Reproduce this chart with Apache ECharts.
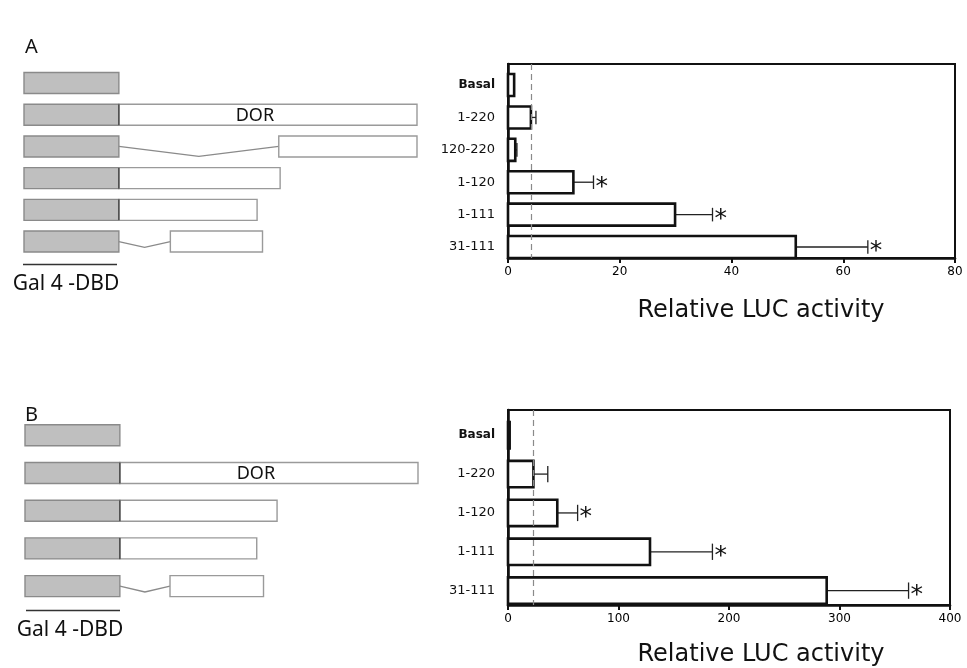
<!DOCTYPE html>
<html>
<head>
<meta charset="utf-8">
<script src="https://cdn.jsdelivr.net/npm/echarts@6/dist/echarts.min.js"></script>
<style>
  html, body { margin: 0; padding: 0; background: #fff; }
  #chart { width: 967px; height: 668px; }
</style>
</head>
<body>
<div id="chart"></div>
<script>
// ---- data: panel A ----
const catsA = ['Basal', '1-220', '120-220', '1-120', '1-111', '31-111'];
const meanA = [1.1, 4.1, 1.3, 11.7, 29.9, 51.5];
const errHighA = [1.1, 5.0, 1.6, 15.3, 36.6, 64.4];
const sigA = [0, 0, 0, 1, 1, 1];
const basalLineA = 4.1;
const xTicksA = { min: 0, max: 80, step: 20 };

// ---- data: panel B ----
const catsB = ['Basal', '1-220', '1-120', '1-111', '31-111'];
const meanB = [1.5, 23, 44.6, 128.5, 288.4];
const errHighB = [1.5, 36, 63, 185, 362.5];
const sigB = [0, 0, 1, 1, 1];
const basalLineB = 22.5;
const xTicksB = { min: 0, max: 400, step: 100 };

// ---- construct diagrams (residue coordinates; DBD drawn before residue 0) ----
const dbdRange = [-70, 0];
const dorA = [null, [0, 220], [118, 220], [0, 119], [0, 102], [38, 106]];
const delA = [null, null, [0, 118], null, null, [0, 38]];
const dorB = [null, [0, 220], [0, 116], [0, 101], [37, 106]];
const delB = [null, null, null, null, [0, 37]];

const FONT = 'DejaVu Sans';

function diagramData(dor, del) {
  const out = [];
  dor.forEach((seg, i) => {
    out.push([i, 0, dbdRange[0], dbdRange[1]]);
    if (del[i]) out.push([i, 2, del[i][0], del[i][1]]);
    if (seg) out.push([i, 1, seg[0], seg[1]]);
  });
  return out;
}

function renderDiagram(params, api) {
  const row = api.value(0), kind = api.value(1), s = api.value(2), e = api.value(3);
  const p0 = api.coord([s, row]);
  const p1 = api.coord([e, row]);
  const h = 21;
  if (kind === 2) {
    const mid = api.coord([(s + e) / 2, row]);
    const dip = Math.min(10, 4 + (e - s) / 20);
    return {
      type: 'polyline',
      shape: { points: [p0, [mid[0], mid[1] + dip], p1] },
      style: { stroke: '#8a8a8a', lineWidth: 1.3, fill: null }
    };
  }
  const children = [{
    type: 'rect',
    shape: { x: p0[0], y: p0[1] - h / 2, width: p1[0] - p0[0], height: h },
    style: {
      fill: kind === 0 ? '#bfbfbf' : '#fff',
      stroke: kind === 0 ? '#8a8a8a' : '#9a9a9a',
      lineWidth: 1.4
    }
  }];
  if (kind === 1 && s === 0) {
    children.push({
      type: 'line',
      shape: { x1: p0[0], y1: p0[1] - h / 2, x2: p0[0], y2: p0[1] + h / 2 },
      style: { stroke: '#444', lineWidth: 1.4 }
    });
  }
  if (kind === 1 && s === 0 && e === 220) {
    children.push({
      type: 'text',
      style: {
        text: 'DOR', x: (p0[0] + p1[0]) / 2 - 13, y: p0[1] + 1,
        align: 'center', verticalAlign: 'middle',
        font: '18px "Noto Sans"', fill: '#111'
      }
    });
  }
  return { type: 'group', children };
}

function barData(mean, hi, sig) {
  return mean.map((v, i) => [i, v, hi[i], sig[i]]);
}

function renderBar(params, api) {
  const row = api.value(0), v = api.value(1), hi = api.value(2), sig = api.value(3);
  const p0 = api.coord([0, row]);
  const p1 = api.coord([v, row]);
  const ph = api.coord([hi, row]);
  const band = Math.abs(api.coord([0, row + 1])[1] - p0[1]);
  const h = band * 0.68;
  const cap = band * 0.21;
  const children = [];
  if (hi > v) {
    children.push({
      type: 'line',
      shape: { x1: p1[0], y1: p1[1], x2: ph[0], y2: ph[1] },
      style: { stroke: '#222', lineWidth: 1.3 }
    });
    children.push({
      type: 'line',
      shape: { x1: ph[0], y1: ph[1] - cap, x2: ph[0], y2: ph[1] + cap },
      style: { stroke: '#222', lineWidth: 1.3 }
    });
  }
  children.push({
    type: 'rect',
    shape: { x: p0[0], y: p0[1] - h / 2, width: Math.max(p1[0] - p0[0], 1), height: h },
    style: { fill: '#fff', stroke: '#111', lineWidth: 2.6 }
  });
  if (sig) {
    children.push({
      type: 'text',
      style: {
        text: '*', x: ph[0] + 2, y: ph[1] + 5,
        align: 'left', verticalAlign: 'middle',
        font: '25px "DejaVu Sans"', fill: '#111'
      }
    });
  }
  return { type: 'group', children };
}

function valueXAxis(grid, t) {
  return {
    gridIndex: grid, type: 'value', min: t.min, max: t.max, interval: t.step,
    axisLine: { show: true, onZero: false, lineStyle: { color: '#111', width: 2.6 } },
    axisTick: { show: true, length: 5, lineStyle: { color: '#111', width: 2 } },
    axisLabel: { fontFamily: FONT, fontSize: 12, color: '#000', margin: 8 },
    splitLine: { show: false }
  };
}

function catYAxis(grid, cats, max) {
  return {
    gridIndex: grid, type: 'value', inverse: true, min: -0.65, max: max,
    axisLine: { show: true, onZero: false, lineStyle: { color: '#111', width: 2.6 } },
    axisTick: { show: false },
    splitLine: { show: false },
    axisLabel: {
      customValues: cats.map((c, i) => i),
      formatter: (v) => (cats[v] === 'Basal' ? '{b|Basal}' : cats[v]),
      fontFamily: FONT, fontSize: 13, color: '#111', margin: 13,
      rich: { b: { fontFamily: FONT, fontSize: 12, fontWeight: 'bold', color: '#111' } }
    }
  };
}

const hidden = { show: false };

const chart = echarts.init(document.getElementById('chart'), null, { renderer: 'canvas' });

chart.setOption({
  animation: false,
  backgroundColor: '#fff',
  grid: [
    { left: 24, top: 67.2, width: 393, height: 190.2 },
    { left: 508, top: 64, width: 447, height: 194, show: true, borderColor: '#111', borderWidth: 2 },
    { left: 25, top: 416.4, width: 393, height: 188.6 },
    { left: 508, top: 410, width: 442, height: 195, show: true, borderColor: '#111', borderWidth: 2 }
  ],
  xAxis: [
    { gridIndex: 0, type: 'value', min: -70, max: 220, ...hidden },
    valueXAxis(1, xTicksA),
    { gridIndex: 2, type: 'value', min: -70, max: 220, ...hidden },
    valueXAxis(3, xTicksB)
  ],
  yAxis: [
    { gridIndex: 0, type: 'value', inverse: true, min: -0.5, max: 5.5, ...hidden },
    catYAxis(1, catsA, 5.34),
    { gridIndex: 2, type: 'value', inverse: true, min: -0.5, max: 4.5, ...hidden },
    catYAxis(3, catsB, 4.37)
  ],
  series: [
    {
      type: 'custom', xAxisIndex: 0, yAxisIndex: 0, silent: true,
      renderItem: renderDiagram, data: diagramData(dorA, delA)
    },
    {
      type: 'custom', xAxisIndex: 1, yAxisIndex: 1, silent: true, z: 3,
      renderItem: renderBar, data: barData(meanA, errHighA, sigA),
      markLine: {
        silent: true, symbol: 'none', label: { show: false },
        lineStyle: { color: '#8a8a8a', width: 1.2, type: [6, 4] },
        data: [{ xAxis: basalLineA }]
      }
    },
    {
      type: 'custom', xAxisIndex: 2, yAxisIndex: 2, silent: true,
      renderItem: renderDiagram, data: diagramData(dorB, delB)
    },
    {
      type: 'custom', xAxisIndex: 3, yAxisIndex: 3, silent: true, z: 3,
      renderItem: renderBar, data: barData(meanB, errHighB, sigB),
      markLine: {
        silent: true, symbol: 'none', label: { show: false },
        lineStyle: { color: '#8a8a8a', width: 1.2, type: [6, 4] },
        data: [{ xAxis: basalLineB }]
      }
    }
  ],
  graphic: [
    { type: 'text', left: 25, top: 37, style: { text: 'A', font: '20px "Noto Sans"', fill: '#111' } },
    { type: 'text', left: 25, top: 405, style: { text: 'B', font: '20px "Noto Sans"', fill: '#111' } },
    { type: 'line', shape: { x1: 23, y1: 264.5, x2: 117, y2: 264.5 }, style: { stroke: '#333', lineWidth: 1.5 } },
    { type: 'line', shape: { x1: 26, y1: 610.5, x2: 120, y2: 610.5 }, style: { stroke: '#333', lineWidth: 1.5 } },
    { type: 'text', x: 66, y: 284, style: { text: 'Gal 4 -DBD', font: '21px "Noto Sans"', fill: '#111', align: 'center', verticalAlign: 'middle' } },
    { type: 'text', x: 70, y: 630, style: { text: 'Gal 4 -DBD', font: '21px "Noto Sans"', fill: '#111', align: 'center', verticalAlign: 'middle' } },
    { type: 'text', x: 761, y: 311, style: { text: 'Relative LUC activity', font: '24px "DejaVu Sans"', fill: '#111', align: 'center', verticalAlign: 'middle' } },
    { type: 'text', x: 761, y: 655, style: { text: 'Relative LUC activity', font: '24px "DejaVu Sans"', fill: '#111', align: 'center', verticalAlign: 'middle' } }
  ]
});
</script>
</body>
</html>
